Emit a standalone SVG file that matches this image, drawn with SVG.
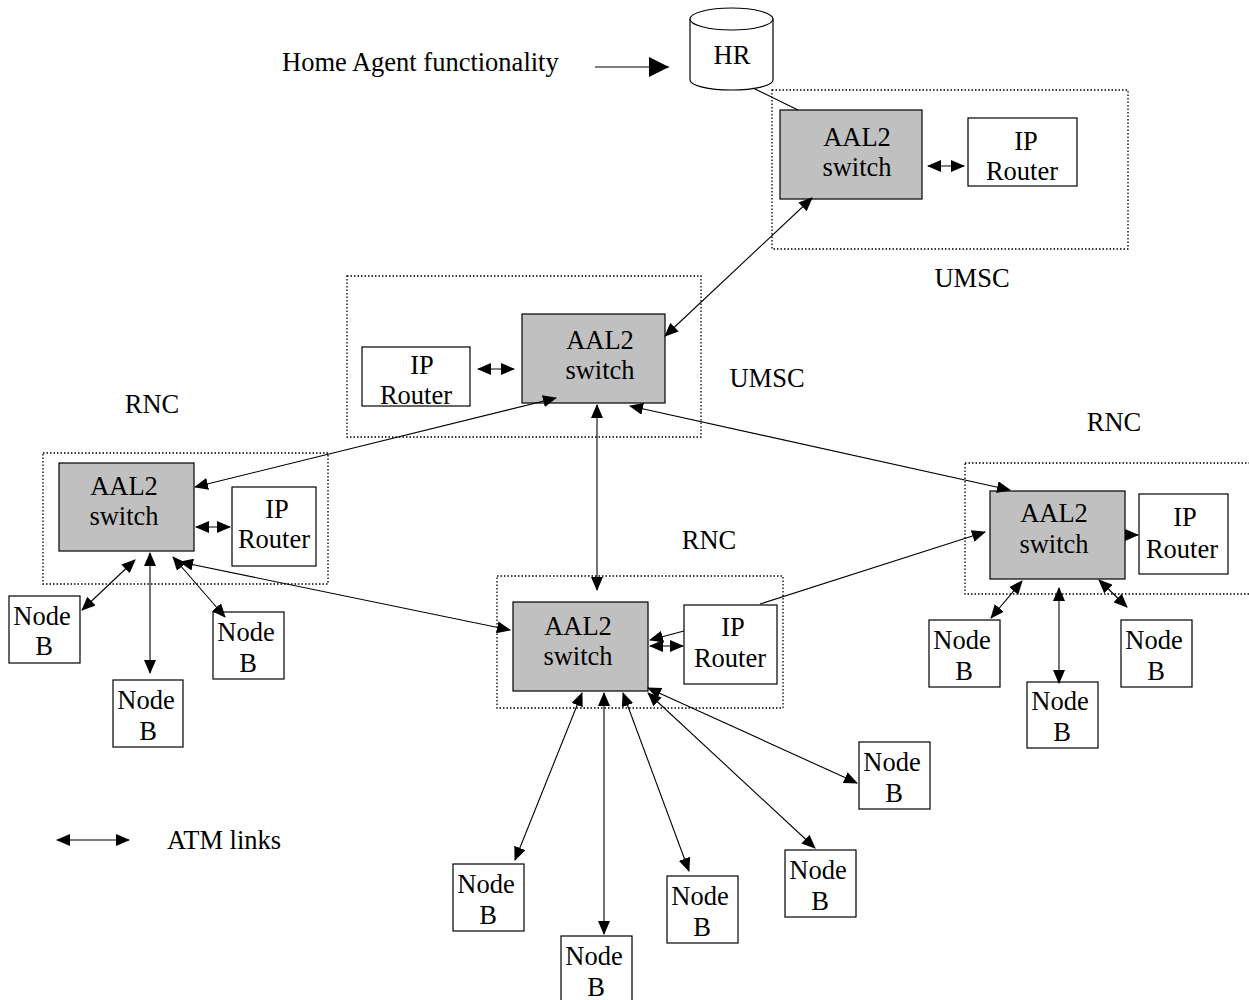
<svg xmlns="http://www.w3.org/2000/svg" width="1249" height="1000" viewBox="0 0 1249 1000">
<style>
text{font-family:"Liberation Serif","Times New Roman",serif;font-size:26.5px;fill:#000;text-anchor:middle}
.lbl{text-anchor:start}
.sw{fill:#c0c0c0;stroke:#000;stroke-width:1.2}
.bx{fill:#fff;stroke:#000;stroke-width:1.2}
.grp{fill:none;stroke:#000;stroke-width:1.3;stroke-dasharray:1.5,2}
.ln{stroke:#000;stroke-width:1.1;fill:none}
.bi{marker-start:url(#ah);marker-end:url(#ah)}
.uni{marker-end:url(#ah)}
</style>
<defs>
<marker id="ah" markerUnits="userSpaceOnUse" markerWidth="14" markerHeight="12" refX="13" refY="6" orient="auto-start-reverse" viewBox="0 0 14 12"><path d="M0,0 L14,6 L0,12 z" fill="#000"/></marker>
<marker id="ahb" markerUnits="userSpaceOnUse" markerWidth="20" markerHeight="20" refX="20" refY="10" orient="auto" viewBox="0 0 20 20"><path d="M0,0 L20,10 L0,20 z" fill="#000"/></marker>
</defs>
<rect width="1249" height="1000" fill="#fff"/>

<g id="hr">
<path d="M690,19 V80 A41.5,10 0 0 0 773,80 V19" class="bx"/>
<ellipse cx="731.5" cy="19" rx="41.5" ry="11" class="bx"/>
<text x="732" y="64">HR</text>
</g>
<text id="home-agent" class="lbl" x="282" y="71">Home Agent functionality</text>

<g id="umsc-top">
<rect class="grp" x="772" y="90" width="356" height="159"/>
<rect class="sw" x="780" y="110" width="142" height="89"/>
<text x="857" y="146">AAL2</text><text x="857" y="176">switch</text>
<rect class="bx" x="968" y="118" width="109" height="68"/>
<text x="1026" y="150">IP</text><text x="1022" y="180">Router</text>
<text x="972" y="287">UMSC</text>
</g>

<g id="umsc-mid">
<rect class="grp" x="347" y="276" width="354" height="161"/>
<rect class="sw" x="522" y="314" width="143" height="89"/>
<text x="600" y="349">AAL2</text><text x="600" y="379">switch</text>
<rect class="bx" x="362" y="347" width="108" height="59"/>
<text x="422" y="374">IP</text><text x="416" y="404">Router</text>
<text x="767" y="387">UMSC</text>
</g>

<g id="rnc-left">
<rect class="grp" x="43" y="453" width="285" height="131"/>
<rect class="sw" x="59" y="463" width="135" height="88"/>
<text x="124" y="495">AAL2</text><text x="124" y="525">switch</text>
<rect class="bx" x="232" y="487" width="84" height="79"/>
<text x="277" y="518">IP</text><text x="274" y="548">Router</text>
<text x="152" y="413">RNC</text>
</g>

<g id="rnc-bottom">
<rect class="grp" x="497" y="576" width="286" height="132"/>
<rect class="sw" x="513" y="602" width="135" height="89"/>
<text x="578" y="635">AAL2</text><text x="578" y="665">switch</text>
<rect class="bx" x="684" y="605" width="93" height="79"/>
<text x="733" y="636">IP</text><text x="730" y="667">Router</text>
<text x="709" y="549">RNC</text>
</g>

<g id="rnc-right">
<rect class="grp" x="965" y="463" width="290" height="131"/>
<rect class="sw" x="990" y="491" width="135" height="88"/>
<text x="1054" y="522">AAL2</text><text x="1054" y="553">switch</text>
<rect class="bx" x="1139" y="494" width="89" height="80"/>
<text x="1185" y="526">IP</text><text x="1182" y="558">Router</text>
<text x="1114" y="431">RNC</text>
</g>

<g id="nodeb-l1"><rect class="bx" x="9" y="596" width="71" height="67"/><text x="42" y="625">Node</text><text x="44" y="655">B</text></g>
<g id="nodeb-l2"><rect class="bx" x="113" y="680" width="70" height="67"/><text x="146" y="709">Node</text><text x="148" y="740">B</text></g>
<g id="nodeb-l3"><rect class="bx" x="213" y="612" width="71" height="67"/><text x="246" y="641">Node</text><text x="248" y="672">B</text></g>

<g id="nodeb-r1"><rect class="bx" x="929" y="620" width="71" height="67"/><text x="962" y="649">Node</text><text x="964" y="680">B</text></g>
<g id="nodeb-r2"><rect class="bx" x="1027" y="682" width="71" height="66"/><text x="1060" y="710">Node</text><text x="1062" y="741">B</text></g>
<g id="nodeb-r3"><rect class="bx" x="1121" y="620" width="71" height="67"/><text x="1154" y="649">Node</text><text x="1156" y="680">B</text></g>

<g id="nodeb-b1"><rect class="bx" x="453" y="864" width="71" height="67"/><text x="486" y="893">Node</text><text x="488" y="924">B</text></g>
<g id="nodeb-b2"><rect class="bx" x="561" y="936" width="71" height="70"/><text x="594" y="965">Node</text><text x="596" y="996">B</text></g>
<g id="nodeb-b3"><rect class="bx" x="667" y="876" width="71" height="67"/><text x="700" y="905">Node</text><text x="702" y="936">B</text></g>
<g id="nodeb-b4"><rect class="bx" x="785" y="850" width="71" height="67"/><text x="818" y="879">Node</text><text x="820" y="910">B</text></g>
<g id="nodeb-b5"><rect class="bx" x="859" y="742" width="71" height="67"/><text x="892" y="771">Node</text><text x="894" y="802">B</text></g>

<text id="legend-label" class="lbl" x="167" y="849">ATM links</text>

<g id="connectors">
<line class="ln" x1="595" y1="67" x2="669" y2="67" style="marker-end:url(#ahb)"/>
<line class="ln" x1="753" y1="88" x2="798" y2="110"/>
<line class="ln bi" x1="928" y1="166" x2="964" y2="166"/>
<line class="ln bi" x1="665" y1="336" x2="812" y2="198"/>
<line class="ln bi" x1="478" y1="369" x2="514" y2="369"/>
<line class="ln bi" x1="556" y1="398" x2="195" y2="487"/>
<line class="ln bi" x1="597" y1="405" x2="597" y2="590"/>
<line class="ln bi" x1="630" y1="406" x2="1010" y2="490"/>
<line class="ln bi" x1="196" y1="527" x2="230" y2="527"/>
<line class="ln bi" x1="135" y1="560" x2="82" y2="610"/>
<line class="ln bi" x1="150" y1="553" x2="150" y2="673"/>
<line class="ln bi" x1="173" y1="557" x2="225" y2="617"/>
<line class="ln bi" x1="180" y1="562" x2="510" y2="630"/>
<line class="ln bi" x1="650" y1="646" x2="683" y2="646"/>
<line class="ln uni" x1="684" y1="631" x2="650" y2="640"/>
<line class="ln uni" x1="760" y1="604" x2="985" y2="532"/>
<line class="ln uni" x1="1125" y1="535" x2="1138" y2="535"/>
<line class="ln bi" x1="1022" y1="581" x2="991" y2="618"/>
<line class="ln bi" x1="1059" y1="588" x2="1059" y2="683"/>
<line class="ln bi" x1="1099" y1="580" x2="1127" y2="607"/>
<line class="ln bi" x1="582" y1="693" x2="515" y2="860"/>
<line class="ln bi" x1="604" y1="693" x2="604" y2="934"/>
<line class="ln bi" x1="623" y1="693" x2="689" y2="871"/>
<line class="ln bi" x1="648" y1="693" x2="815" y2="848"/>
<line class="ln bi" x1="648" y1="688" x2="857" y2="783"/>
<line class="ln bi" x1="57" y1="840" x2="129" y2="840"/>
</g>
</svg>
